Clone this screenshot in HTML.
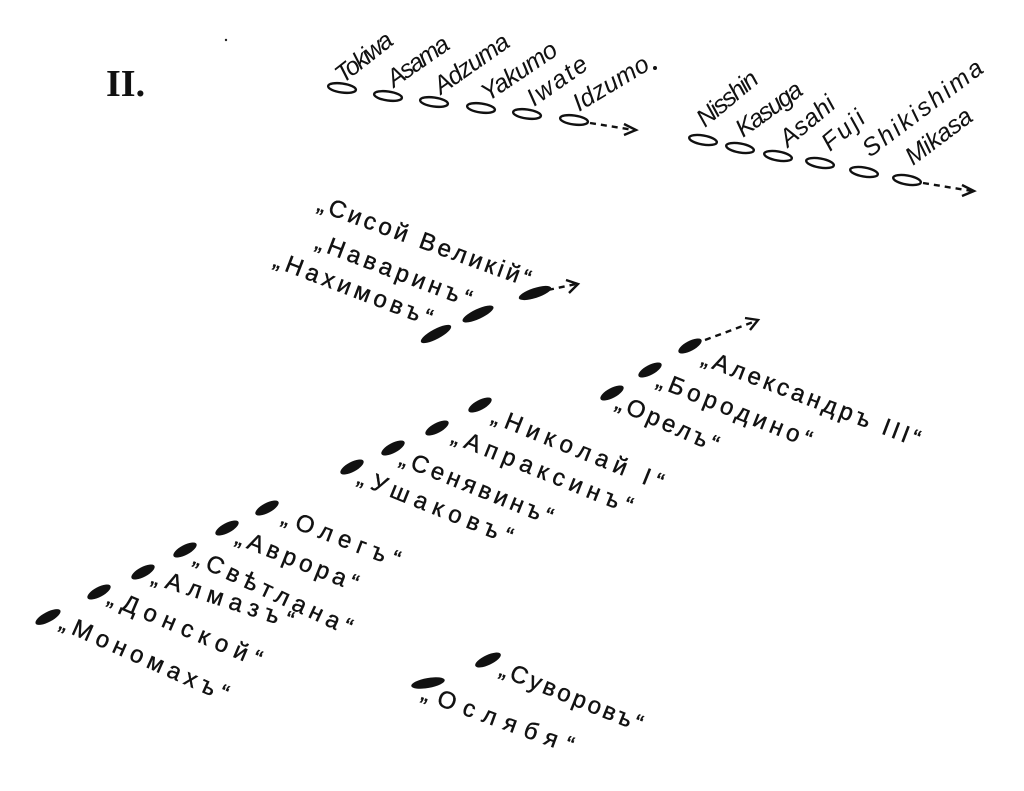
<!DOCTYPE html>
<html><head><meta charset="utf-8"><style>
html,body{margin:0;padding:0;background:#fff;}
svg{display:block}
text{font-family:"Liberation Sans","DejaVu Sans",sans-serif;fill:#111;}
.j{font-size:25px;font-style:italic}
.r{font-size:24px;stroke:#111;stroke-width:0.4}
</style></head><body>
<svg width="1024" height="791" viewBox="0 0 1024 791" xmlns="http://www.w3.org/2000/svg">
<text x="106" y="96" style="font-family:'Liberation Serif',serif;font-weight:bold;font-size:38px">II.</text>
<circle cx="226" cy="40" r="1.2" fill="#222"/>
<g fill="none" stroke="#111" stroke-width="2.4">
<ellipse cx="342" cy="88" rx="14" ry="4.5" transform="rotate(8 342 88)"/>
<ellipse cx="388" cy="96" rx="14" ry="4.5" transform="rotate(8 388 96)"/>
<ellipse cx="434" cy="102" rx="14" ry="4.5" transform="rotate(8 434 102)"/>
<ellipse cx="481" cy="108" rx="14" ry="4.5" transform="rotate(8 481 108)"/>
<ellipse cx="527" cy="114" rx="14" ry="4.5" transform="rotate(8 527 114)"/>
<ellipse cx="574" cy="120" rx="14" ry="4.5" transform="rotate(8 574 120)"/>
<line x1="590" y1="123" x2="634" y2="130" stroke-dasharray="6,5"/>
<polyline points="624,124 636,130 624,135"/>
<ellipse cx="703" cy="140" rx="14" ry="4.5" transform="rotate(10 703 140)"/>
<ellipse cx="740" cy="148" rx="14" ry="4.5" transform="rotate(10 740 148)"/>
<ellipse cx="778" cy="156" rx="14" ry="4.5" transform="rotate(10 778 156)"/>
<ellipse cx="820" cy="163" rx="14" ry="4.5" transform="rotate(10 820 163)"/>
<ellipse cx="864" cy="172" rx="14" ry="4.5" transform="rotate(10 864 172)"/>
<ellipse cx="907" cy="180" rx="14" ry="4.5" transform="rotate(10 907 180)"/>
<line x1="923" y1="183" x2="972" y2="191" stroke-dasharray="6,5"/>
<polyline points="962,185 974,191 962,196"/>
<line x1="548" y1="290" x2="576" y2="284" stroke-dasharray="6,5"/>
<polyline points="566,280 578,284 569,293"/>
<line x1="705" y1="340" x2="756" y2="321" stroke-dasharray="6,5"/>
<polyline points="745,318 758,320 750,330"/>
</g>
<g class="j">
<text transform="translate(343,84) rotate(-38)" textLength="66">Tokiwa</text>
<text transform="translate(394,88) rotate(-35)" textLength="70">Asama</text>
<text transform="translate(441,95) rotate(-35)" textLength="86">Adzuma</text>
<text transform="translate(488,102) rotate(-34)" textLength="86">Yakumo</text>
<text transform="translate(534,107) rotate(-35)" textLength="68">Iwate</text>
<text transform="translate(579,112) rotate(-31)" textLength="84">Idzumo</text>
<text transform="translate(705,128) rotate(-40)" textLength="72">Nisshin</text>
<text transform="translate(743,138) rotate(-36)" textLength="76">Kasuga</text>
<text transform="translate(788,148) rotate(-40)" textLength="64">Asahi</text>
<text transform="translate(830,152) rotate(-40)" textLength="48">Fuji</text>
<text transform="translate(870,158) rotate(-37)" textLength="144">Shikishima</text>
<text transform="translate(913,166) rotate(-37)" textLength="77">Mikasa</text>
</g>
<circle cx="655" cy="68" r="2" fill="#111"/>
<g fill="#111">
<ellipse cx="535" cy="293" rx="17" ry="5" transform="rotate(-18 535 293)"/>
<ellipse cx="478" cy="314" rx="17" ry="5" transform="rotate(-25 478 314)"/>
<ellipse cx="436" cy="334" rx="17" ry="5" transform="rotate(-28 436 334)"/>
<ellipse cx="690" cy="346" rx="13" ry="5" transform="rotate(-28 690 346)"/>
<ellipse cx="650" cy="370" rx="13" ry="5" transform="rotate(-28 650 370)"/>
<ellipse cx="612" cy="393" rx="13" ry="5" transform="rotate(-28 612 393)"/>
<ellipse cx="480" cy="405" rx="13" ry="5" transform="rotate(-28 480 405)"/>
<ellipse cx="437" cy="428" rx="13" ry="5" transform="rotate(-28 437 428)"/>
<ellipse cx="393" cy="448" rx="13" ry="5" transform="rotate(-28 393 448)"/>
<ellipse cx="352" cy="467" rx="13" ry="5" transform="rotate(-28 352 467)"/>
<ellipse cx="267" cy="508" rx="13" ry="5" transform="rotate(-28 267 508)"/>
<ellipse cx="227" cy="528" rx="13" ry="5" transform="rotate(-28 227 528)"/>
<ellipse cx="185" cy="550" rx="13" ry="5" transform="rotate(-28 185 550)"/>
<ellipse cx="143" cy="572" rx="13" ry="5" transform="rotate(-28 143 572)"/>
<ellipse cx="99" cy="592" rx="13" ry="5" transform="rotate(-28 99 592)"/>
<ellipse cx="48" cy="617" rx="14" ry="5" transform="rotate(-28 48 617)"/>
<ellipse cx="488" cy="660" rx="14" ry="5" transform="rotate(-25 488 660)"/>
<ellipse cx="428" cy="683" rx="17" ry="5" transform="rotate(-10 428 683)"/>
</g>
<g class="r">
<text transform="translate(316,210) rotate(20)" textLength="225">„Сисой Великій“</text>
<text transform="translate(314,248) rotate(21)" textLength="165">„Наваринъ“</text>
<text transform="translate(272,266) rotate(21)" textLength="168">„Нахимовъ“</text>
<text transform="translate(700,364) rotate(21)" textLength="232">„Александръ III“</text>
<text transform="translate(655,386) rotate(22)" textLength="165">„Бородино“</text>
<text transform="translate(614,408) rotate(24)" textLength="110">„Орелъ“</text>
<text transform="translate(490,422) rotate(22)" textLength="183">„Николай I“</text>
<text transform="translate(450,442) rotate(22)" textLength="193">„Апраксинъ“</text>
<text transform="translate(398,464) rotate(22)" textLength="163">„Сенявинъ“</text>
<text transform="translate(356,483) rotate(22)" textLength="165">„Ушаковъ“</text>
<text transform="translate(280,523) rotate(21)" textLength="125">„Олегъ“</text>
<text transform="translate(234,543) rotate(22)" textLength="130">„Аврора“</text>
<text transform="translate(192,563) rotate(25)" textLength="172">„Свѣтлана“</text>
<text transform="translate(150,583) rotate(18)" textLength="148">„Алмазъ“</text>
<text transform="translate(106,603) rotate(23)" textLength="165">„Донской“</text>
<text transform="translate(58,628) rotate(24)" textLength="182">„Мономахъ“</text>
<text transform="translate(498,675) rotate(22)" textLength="152">„Суворовъ“</text>
<text transform="translate(420,699) rotate(20)" textLength="160">„Ослябя“</text>
</g>
</svg>
</body></html>
